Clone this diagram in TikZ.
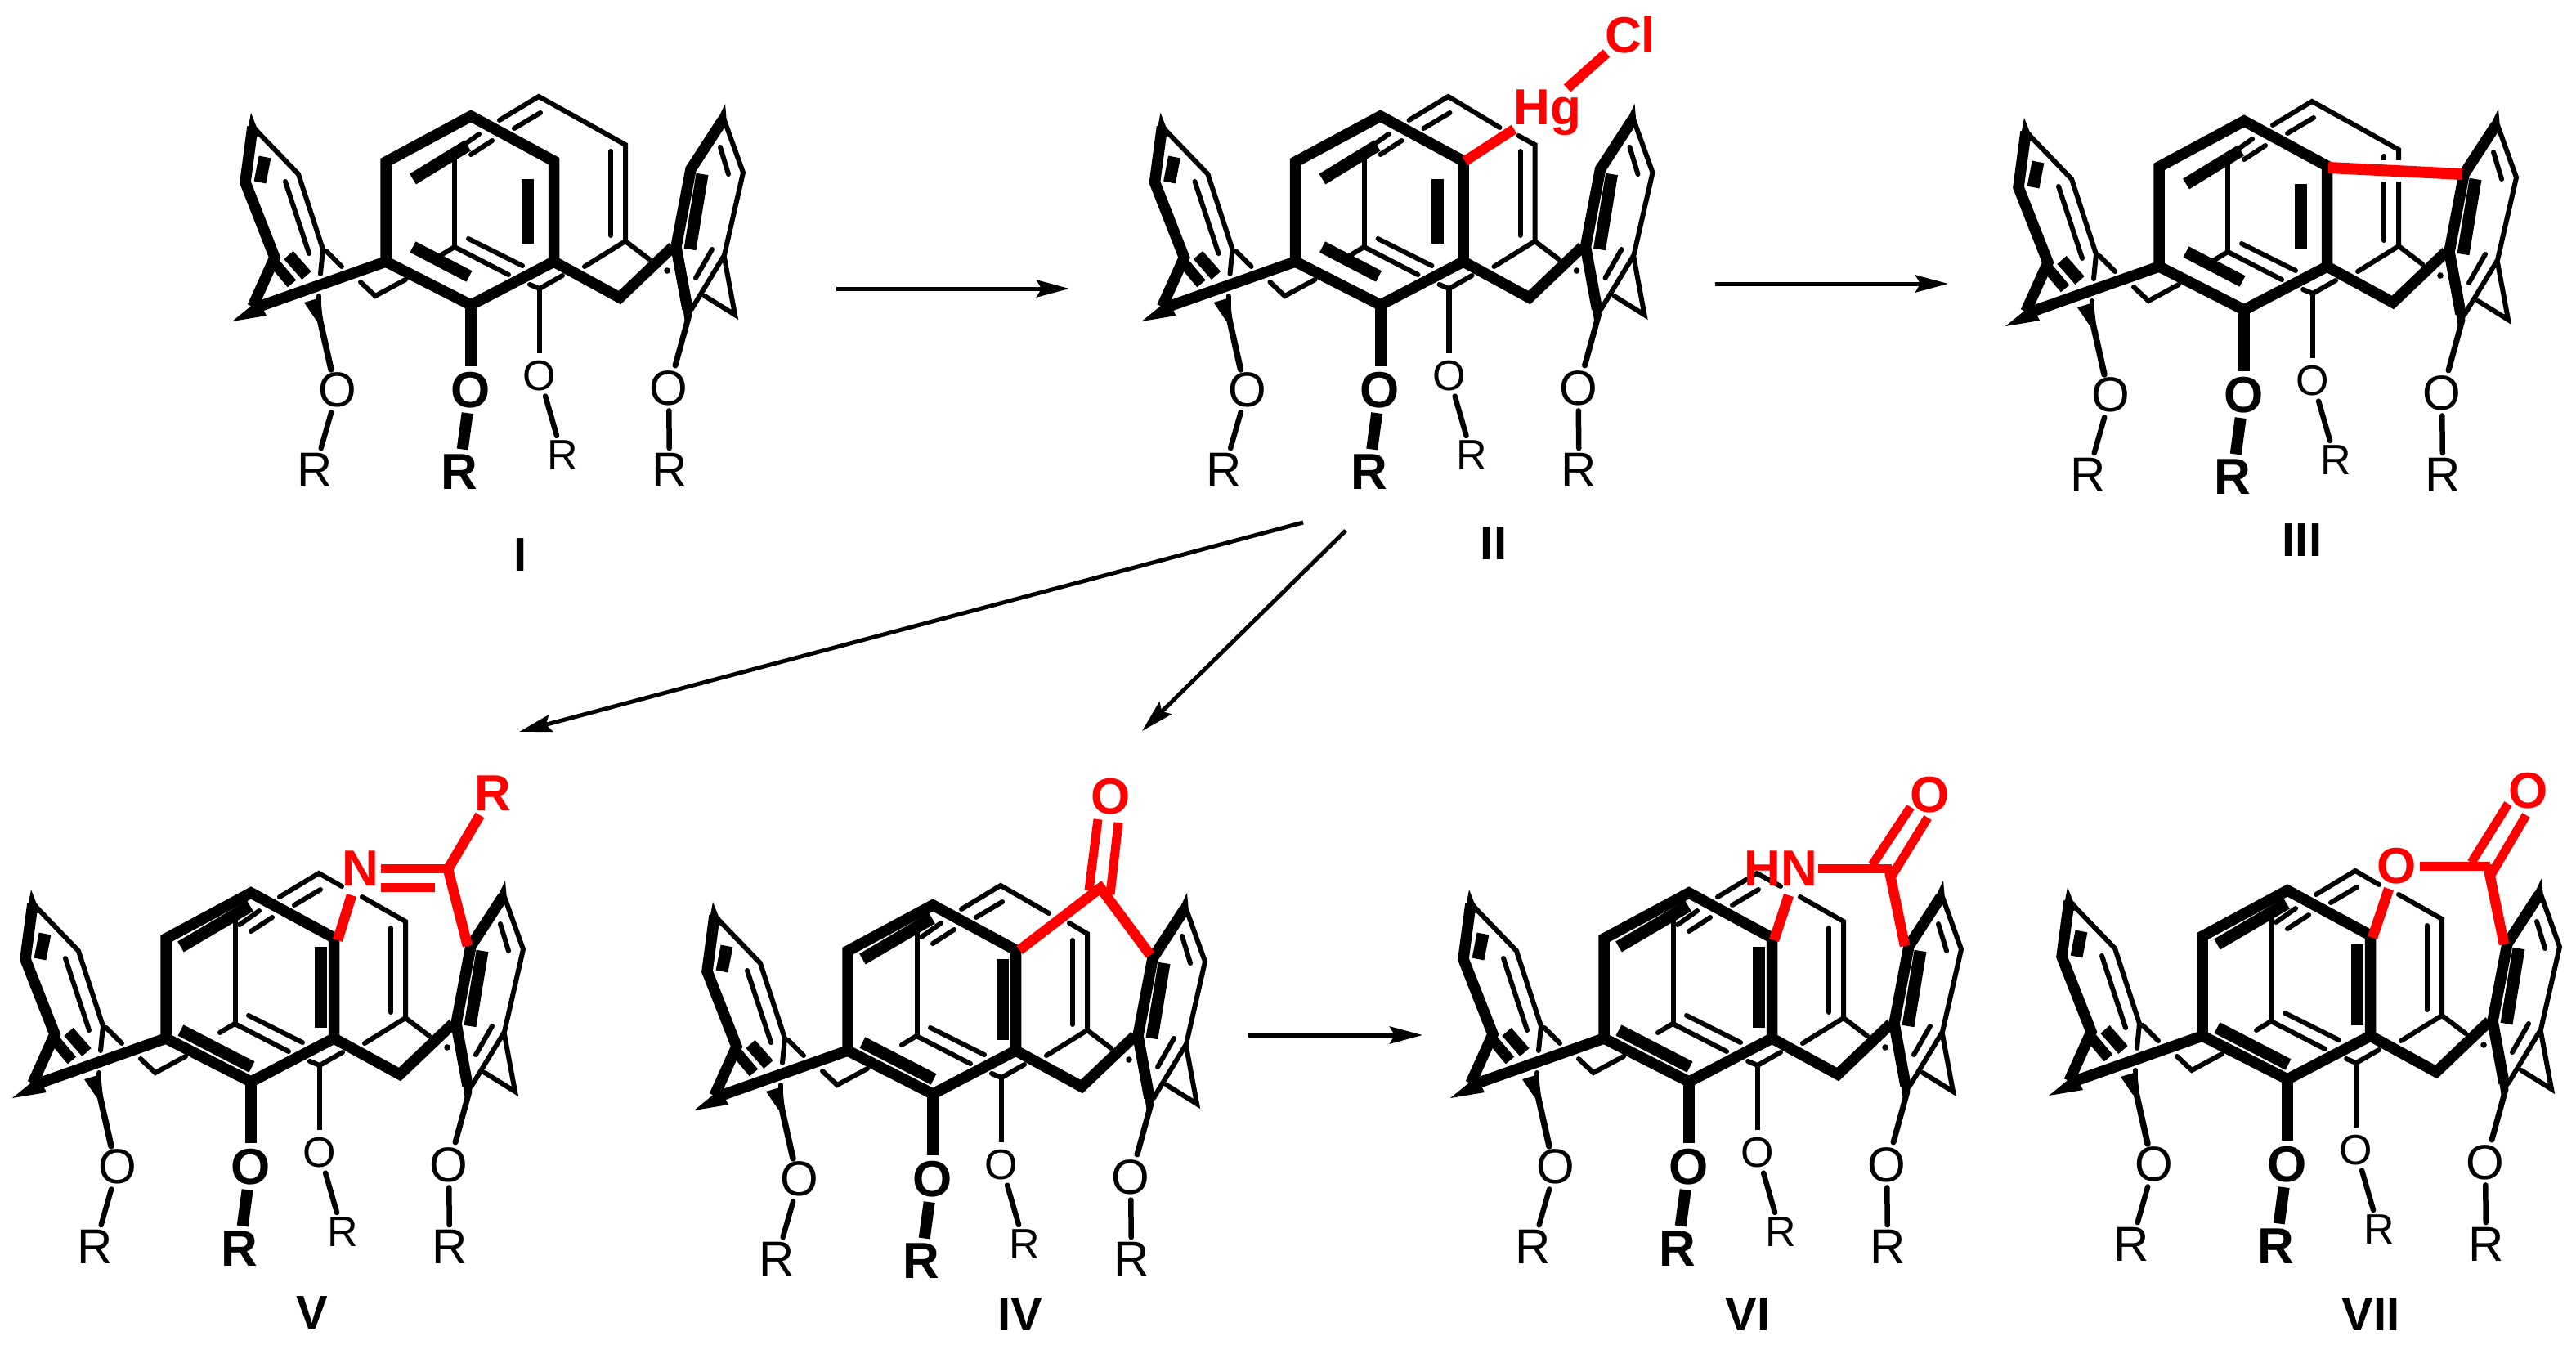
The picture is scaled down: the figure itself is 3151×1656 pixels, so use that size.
\documentclass[tikz,border=0pt]{standalone}
\usepackage{fontspec}
\setmainfont{Liberation Sans}
\usetikzlibrary{arrows.meta}
\tikzset{
  thinb/.style={line width=6pt,line cap=round,line join=miter,black},
  thickb/.style={line width=13.5pt,line cap=butt,line join=miter,black},
  barb/.style={line width=15pt,line cap=butt,black},
  boldb/.style={line width=14pt,line cap=butt,black},
  atom/.style={inner sep=6pt,font=\fontsize{60}{60}\selectfont},
  atoms/.style={inner sep=6pt,font=\fontsize{52}{52}\selectfont},
  atomb/.style={inner sep=6pt,font=\fontsize{62}{62}\selectfont\bfseries},
  redatom/.style={inner sep=0pt,text=red,font=\fontsize{62}{62}\selectfont\bfseries},
  redb/.style={line width=12.5pt,line cap=butt,line join=miter,red},
  redt/.style={line width=11pt,line cap=butt,red},
  cmpd/.style={inner sep=0pt,font=\fontsize{58}{58}\selectfont\bfseries},
  rxn/.style={line width=5pt,-{Stealth[length=40pt,width=21pt,inset=6pt]}}
}
% #1 dx, #2 dy, #3 variant (0 top row, 1 bottom row), #4 #5 break of back ring, #6 name prefix
\newcommand{\calix}[6]{%
\begin{scope}[shift={(#1,#2)},name prefix=#6-]
  % back ring
  \draw[thinb] (611,147) -- (659,118) -- (#4);
  \draw[thinb] (#5) -- (765,177) -- (765,295) -- (715,326);
  \draw[thinb] (765,295) -- (794,317);
  \draw[thinb] (629,157) -- (661,138);
  \draw[thinb] (747,185) -- (747,288);
  % left bridge
  \draw[thinb] (441,345) -- (459,362) -- (496,342);
  % middle ring
  \ifnum#3=0
    \draw[thinb] (556,190) -- (556,302);
  \else
    \draw[thinb] (557,170) -- (557,302);
  \fi
  \draw[thinb] (556,302) -- (538,313);
  \draw[thinb] (556,302) -- (622,336);
  \draw[thinb] (573,292) -- (639,325);
  \draw[thinb] (576,189) -- (602,172);
  \draw[thinb] (562,181) -- (586,164);
  \draw[thinb] (648,348) -- (660,353) -- (688,337);
  \draw[line width=6.5pt,black] (660,353) -- (660,432);
  % left aryl ring
  \fill (307,138) -- (301,170) -- (318,166) -- cycle;
  \draw[thinb] (311,157) -- (365,213) -- (395,305);
  \draw[thinb] (395,305) -- (392,335);
  \draw[thinb] (399,307) -- (418,326);
  \draw[thinb] (349,222) -- (378,310);
  \draw[barb] (324,192) -- (318,223);
  \draw[barb] (353,312) -- (375,337);
  \draw[thickb] (336,322) -- (357,347);
  \draw[thickb] (309,155) -- (300,223) -- (336,315) -- (309,375);
  % right aryl ring
  \draw[thinb] (886,147) -- (909,211) -- (886,312) -- (846,378);
  \draw[thinb] (886,315) -- (899,385) -- (862,362);
  \draw[thinb] (881,180) -- (891,213);
  \draw[thinb] (871,305) -- (851,340);
  \draw[barb] (859,213) -- (844,305);
  \fill (816,331) circle (3.8);
  \fill (887,127) -- (876,150) -- (889,150) -- cycle;
  \draw[thickb] (884,147) -- (845,207) -- (827,302) -- (841,378);
  \fill (835,375) -- (848,378) -- (839,402) -- cycle;
  % front ring
  \draw[thickb] (472,198) -- (576,142) -- (677.5,197) -- (677.5,320) -- (576,373) -- (472,320) -- cycle;
  % inner bars of the front ring
  \ifnum#3=0
    \draw[barb] (505,219) -- (572,178);
    \draw[barb] (505,302) -- (574,338);
    \draw[barb] (645.5,219) -- (645.5,298);
  \else
    \draw[barb] (490,208) -- (575,158);
    \draw[barb] (490,310) -- (577,355);
    \draw[barb] (661,208) -- (661,307);
  \fi
  % lower bridges
  \draw[thickb] (677.5,320) -- (758,364) -- (823,302);
  % long wedge bond
  \draw[thickb] (472,320) -- (308,378);
  \fill (316,367) -- (326,386) -- (284,393) -- cycle;
  % substituent stems
  \fill (372,370) -- (392,364) -- (395,392) -- (387,392) -- cycle;
  \draw[thinb] (390,362) -- (390,385);
  \draw[line width=7.5pt,line cap=round,black] (390,385) -- (405,452);
  \draw[line width=7pt,line cap=round,black] (843,385) -- (826,447);
  \draw[boldb] (576,373) -- (576,448);
  % atoms
  \node[atom]  (Oa) at (413,477) {O};
  \node[atom]  (Ra) at (385,575) {R};
  \node[atomb] (Ob) at (575.5,477) {O};
  \node[atomb] (Rb) at (562,577) {R};
  \node[atoms] (Oc) at (660,460) {O};
  \node[atoms] (Rc) at (688,557) {R};
  \node[atom]  (Od) at (818,475) {O};
  \node[atom]  (Rd) at (819,575) {R};
  \draw[line width=6.5pt,line cap=round,black] (Oa) -- (Ra);
  \draw[boldb] (Ob) -- (Rb);
  \draw[line width=6.5pt,line cap=round,black] (Oc) -- (Rc);
  \draw[line width=6.5pt,line cap=round,black] (Od) -- (Rd);
\end{scope}}
\begin{document}
\begin{tikzpicture}[x=1pt,y=-1pt]
\useasboundingbox (0,0) rectangle (3151,1656);
\fill[white] (0,0) rectangle (3151,1656);

\calix{0}{0}{0}{722,153}{722,153}{mI}
\calix{1112.5}{0}{0}{722,156}{745,166}{mII}
\calix{2169}{6}{0}{722,153}{722,153}{mIII}
\calix{-269}{950}{1}{687,134}{712,147}{mV}
\calix{565}{965}{1}{718,152}{743,164}{mIV}
\calix{1490}{950}{1}{688,134}{712,147}{mVI}
\calix{2222}{947}{1}{688,135}{712,147}{mVII}

% II : HgCl
\node[redatom,anchor=base] (hg) at (1893,153) {Hg};
\node[redatom,anchor=base] (cl) at (1994,65) {Cl};
\draw[redb] (1792,197) -- (1852,158);
\draw[redb] (1917,108) -- (1965,65);

% III : direct bond
\fill[white] (2905,196) rectangle (2945,222);
\draw[line width=14pt,line cap=butt,red] (2848,205) -- (3012,213);

% V : imine
\node[redatom] (Nv) at (441,1062) {N};
\node[redatom] (Rv) at (603,970) {R};
\draw[redb] (413,1150) -- (430,1095);
\draw[redt] (466,1062) -- (548,1062);
\draw[redt] (466,1085) -- (532,1085);
\draw[redb] (587,997) -- (548,1063) -- (572,1157);

% IV : ketone
\node[redatom] (Oiv) at (1359,974) {O};
\draw[redb] (1247,1162) -- (1346,1086) -- (1407,1168);
\draw[redt] (1343,1002) -- (1332,1089);
\draw[redt] (1368,1006) -- (1358,1094);

% VI : lactam
\node[redatom] (HNvi) at (2178,1062) {HN};
\node[redatom] (Ovi) at (2361,972) {O};
\draw[redb] (2170,1150) -- (2188,1095);
\draw[redt] (2224,1062) -- (2314,1062);
\draw[redb] (2310,1060) -- (2330,1157);
\draw[redt] (2290,1058) -- (2337,987);
\draw[redt] (2313,1073) -- (2358,1000);

% VII : lactone
\node[redatom] (Ovii) at (2932,1059) {O};
\node[redatom] (Oviib) at (3093,967) {O};
\draw[redb] (2902,1147) -- (2922,1087);
\draw[redt] (2960,1059) -- (3046,1059);
\draw[redb] (3043,1058) -- (3063,1155);
\draw[redt] (3023,1055) -- (3068,983);
\draw[redt] (3047,1070) -- (3090,997);

% compound labels
\node[cmpd] (lI)   at (637,679)  {I};
\node[cmpd] (lII)  at (1827,665) {II};
\node[cmpd] (lIII) at (2816,661) {III};
\node[cmpd] (lV)   at (382,1606) {V};
\node[cmpd] (lIV)  at (1248,1608) {IV};
\node[cmpd] (lVI)  at (2138,1608) {VI};
\node[cmpd] (lVII) at (2900,1608) {VII};

% reaction arrows
\coordinate (a1s) at (1023,353); \coordinate (a1e) at (1308,353);
\coordinate (a2s) at (2098,347); \coordinate (a2e) at (2383,347);
\coordinate (a3s) at (1594,639); \coordinate (a3e) at (635,895);
\coordinate (a4s) at (1646,649); \coordinate (a4e) at (1397,894);
\coordinate (a5s) at (1527,1266); \coordinate (a5e) at (1740,1266);
\draw[rxn] (a1s) -- (a1e);
\draw[rxn] (a2s) -- (a2e);
\draw[rxn] (a3s) -- (a3e);
\draw[rxn] (a4s) -- (a4e);
\draw[rxn] (a5s) -- (a5e);
\end{tikzpicture}
\end{document}
